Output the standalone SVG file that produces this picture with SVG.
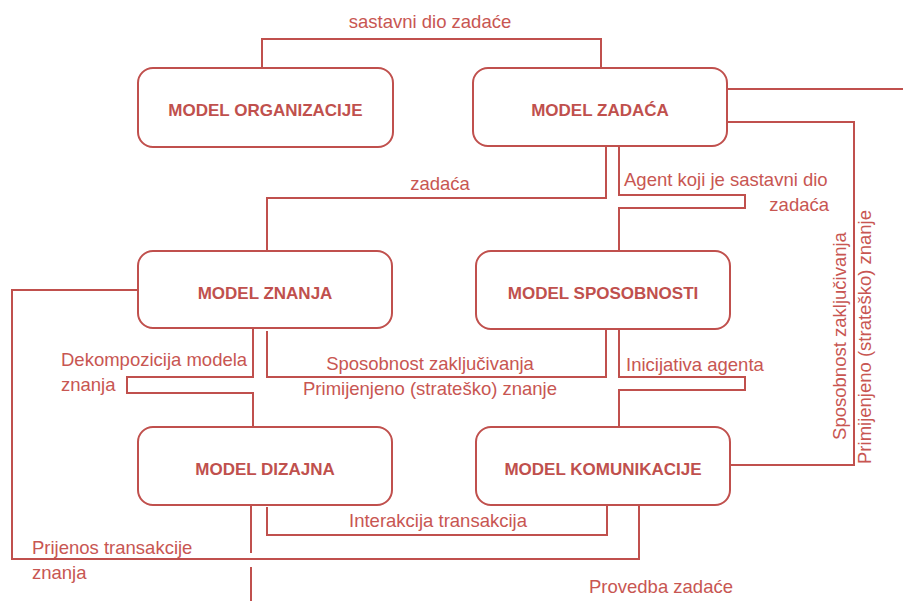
<svg xmlns="http://www.w3.org/2000/svg" width="903" height="601" viewBox="0 0 903 601">
<style>
.box{fill:#fff;stroke:#c0504d;stroke-width:2}
.title{font-family:"Liberation Sans",Arial,sans-serif;font-weight:bold;font-size:17px;fill:#c0504d;text-anchor:middle}
.lbl{font-family:"Liberation Sans",Arial,sans-serif;font-size:18.5px;fill:#c85652}
.c{fill:none;stroke:#c0504d;stroke-width:2}
</style>
<rect width="903" height="601" fill="#fff"/>
<g id="connectors">
<path class="c" d="M262,68 V39 H601 V68"/>
<path class="c" d="M727,89 H903"/>
<path class="c" d="M727,122 H854 V465 H730"/>
<path class="c" d="M606,146 V198 H267 V251"/>
<path class="c" d="M619,146 V195 H745 V208 H619 V251"/>
<path class="c" d="M253,328 V377 H127 V393 H253 V427"/>
<path class="c" d="M267,331 V377 H606 V329"/>
<path class="c" d="M619,329 V377 H745 V390 H619 V427"/>
<path class="c" d="M138,290 H12 V559 H639 V506"/>
<path class="c" d="M251,505 V553 M251,567 V601"/>
<path class="c" d="M267,507 V535 H607 V505"/>
</g>
<g id="labels">
<text class="lbl" x="430" y="28" text-anchor="middle">sastavni dio zadaće</text>
<text class="lbl" x="440" y="190" text-anchor="middle">zadaća</text>
<text class="lbl" x="624" y="186">Agent koji je sastavni dio</text>
<text class="lbl" x="829" y="211" text-anchor="end">zadaća</text>
<text class="lbl" x="61" y="366">Dekompozicija modela</text>
<text class="lbl" x="61" y="391">znanja</text>
<text class="lbl" x="430" y="370" text-anchor="middle">Sposobnost zaključivanja</text>
<text class="lbl" x="430" y="395" text-anchor="middle">Primijenjeno (strateško) znanje</text>
<text class="lbl" x="626" y="371">Inicijativa agenta</text>
<text class="lbl" x="438" y="527" text-anchor="middle">Interakcija transakcija</text>
<text class="lbl" x="32" y="554">Prijenos transakcije</text>
<text class="lbl" x="32" y="579">znanja</text>
<text class="lbl" x="589" y="593">Provedba zadaće</text>
<text class="lbl" x="846" y="336" text-anchor="middle" transform="rotate(-90 846 336)">Sposobnost zaključivanja</text>
<text class="lbl" x="871" y="337" text-anchor="middle" transform="rotate(-90 871 337)">Primijenjeno (strateško) znanje</text>
</g>
<g id="model-organizacije">
<rect class="box" x="138" y="68" width="255" height="79" rx="15"/>
<text class="title" x="265.5" y="116">MODEL ORGANIZACIJE</text>
</g>
<g id="model-zadaca">
<rect class="box" x="473" y="68" width="254" height="78" rx="15"/>
<text class="title" x="600" y="116">MODEL ZADAĆA</text>
</g>
<g id="model-znanja">
<rect class="box" x="138" y="251" width="254" height="77" rx="15"/>
<text class="title" x="265" y="299">MODEL ZNANJA</text>
</g>
<g id="model-sposobnosti">
<rect class="box" x="476" y="251" width="254" height="78" rx="15"/>
<text class="title" x="603" y="299">MODEL SPOSOBNOSTI</text>
</g>
<g id="model-dizajna">
<rect class="box" x="138" y="427" width="254" height="78" rx="15"/>
<text class="title" x="265" y="475">MODEL DIZAJNA</text>
</g>
<g id="model-komunikacije">
<rect class="box" x="476" y="427" width="254" height="78" rx="15"/>
<text class="title" x="603" y="475">MODEL KOMUNIKACIJE</text>
</g>
</svg>
